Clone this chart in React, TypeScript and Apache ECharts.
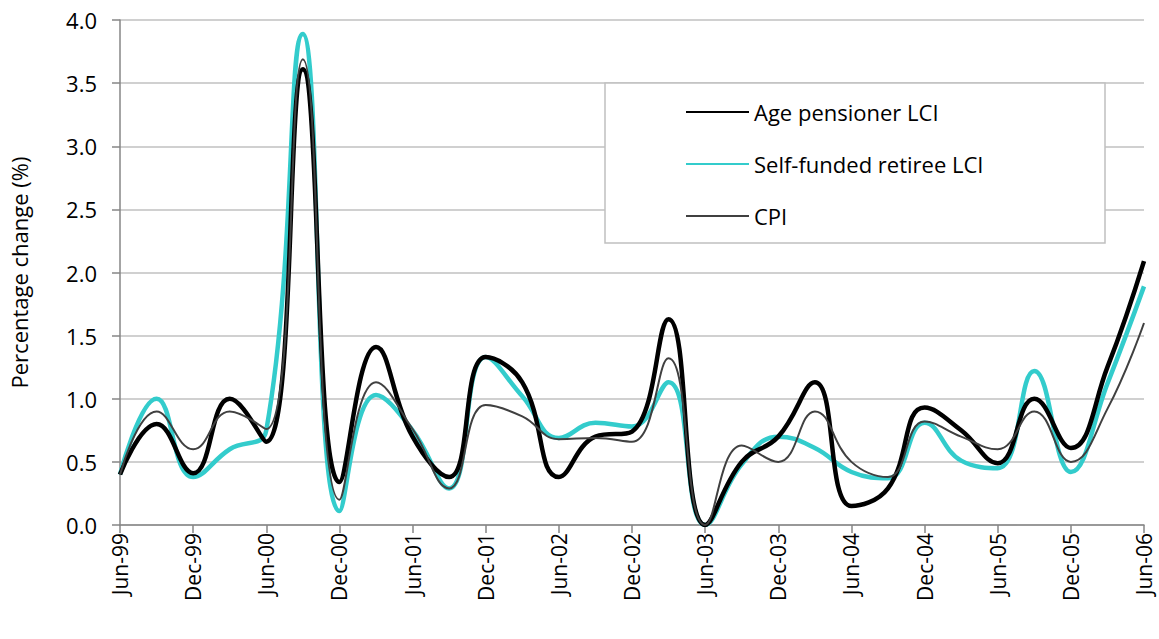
import React, { useEffect, useRef } from "react";
import * as echarts from "echarts";

const quarters = [
  "Jun-99", "Sep-99", "Dec-99", "Mar-00", "Jun-00", "Sep-00", "Dec-00", "Mar-01",
  "Jun-01", "Sep-01", "Dec-01", "Mar-02", "Jun-02", "Sep-02", "Dec-02", "Mar-03",
  "Jun-03", "Sep-03", "Dec-03", "Mar-04", "Jun-04", "Sep-04", "Dec-04", "Mar-05",
  "Jun-05", "Sep-05", "Dec-05", "Mar-06", "Jun-06",
];

const agePensionerLCI = [
  0.40, 0.80, 0.41, 1.00, 0.66, 3.61, 0.34, 1.41, 0.70, 0.38, 1.33, 1.13, 0.38, 0.70, 0.74,
  1.63, 0.00, 0.50, 0.70, 1.13, 0.15, 0.29, 0.93, 0.75, 0.49, 1.00, 0.61, 1.25, 2.09,
];

const selfFundedRetireeLCI = [
  0.40, 1.00, 0.38, 0.60, 0.75, 3.89, 0.11, 1.03, 0.75, 0.29, 1.33, 1.02, 0.69, 0.81, 0.78,
  1.13, 0.00, 0.48, 0.70, 0.61, 0.42, 0.37, 0.81, 0.51, 0.45, 1.22, 0.42, 1.12, 1.89,
];

const cpi = [
  0.40, 0.90, 0.60, 0.90, 0.76, 3.69, 0.20, 1.13, 0.76, 0.29, 0.95, 0.86, 0.68, 0.69, 0.66,
  1.32, 0.00, 0.63, 0.50, 0.90, 0.50, 0.38, 0.82, 0.70, 0.60, 0.90, 0.50, 0.92, 1.60,
];

const seriesNames = ["Age pensioner LCI", "Self-funded retiree LCI", "CPI"];
const FONT = "'Open Sans', sans-serif";

export default function App() {
  const ref = useRef<HTMLDivElement>(null);

  useEffect(() => {
    if (!ref.current) return;
    const chart = echarts.init(ref.current, null, { renderer: "svg" });
    chart.setOption({
      animation: false,
      backgroundColor: "#ffffff",
      textStyle: { fontFamily: FONT },
      grid: { left: 120, right: 15, top: 20, bottom: 114, containLabel: false },
      graphic: [
        {
          type: "rect",
          z: 1,
          shape: { x: 605, y: 83, width: 500, height: 160 },
          style: { fill: "#ffffff", stroke: "#c0c0c0", lineWidth: 1.5 },
        },
      ],
      legend: {
        orient: "vertical",
        left: 685,
        top: 101,
        z: 5,
        itemWidth: 63,
        itemHeight: 2,
        itemGap: 30,
        padding: 0,
        data: seriesNames,
        textStyle: { fontSize: 22, color: "#000000", fontFamily: FONT },
      },
      xAxis: {
        type: "category",
        data: quarters,
        boundaryGap: false,
        axisLine: { lineStyle: { color: "#868686", width: 1.5 } },
        axisTick: { interval: 1, length: 8, lineStyle: { color: "#868686", width: 1.5 } },
        axisLabel: {
          interval: 1,
          rotate: 90,
          fontSize: 21,
          color: "#000000",
          margin: 8,
          fontFamily: FONT,
        },
        splitLine: { show: false },
      },
      yAxis: {
        type: "value",
        min: 0,
        max: 4,
        interval: 0.5,
        name: "Percentage change (%)",
        nameLocation: "middle",
        nameGap: 90,
        nameRotate: 90,
        nameTextStyle: { fontSize: 22, color: "#000000", fontFamily: FONT },
        axisLine: { show: true, lineStyle: { color: "#868686", width: 1.5 } },
        axisTick: { show: true, length: 8, lineStyle: { color: "#868686", width: 1.5 } },
        axisLabel: {
          fontSize: 22,
          color: "#000000",
          margin: 23,
          fontFamily: FONT,
          formatter: (v: number) => v.toFixed(1),
        },
        splitLine: { lineStyle: { color: "#c0c0c0", width: 1.5 } },
      },
      series: [
        {
          name: seriesNames[0],
          type: "line",
          data: agePensionerLCI,
          smooth: 0.45,
          symbol: "none",
          z: 4,
          lineStyle: { color: "#000000", width: 4.5 },
          itemStyle: { color: "#000000" },
        },
        {
          name: seriesNames[1],
          type: "line",
          data: selfFundedRetireeLCI,
          smooth: 0.45,
          symbol: "none",
          z: 3,
          lineStyle: { color: "#33cccc", width: 4.5 },
          itemStyle: { color: "#33cccc" },
        },
        {
          name: seriesNames[2],
          type: "line",
          data: cpi,
          smooth: 0.45,
          symbol: "none",
          z: 5,
          lineStyle: { color: "#404040", width: 2 },
          itemStyle: { color: "#404040" },
        },
      ],
    });
    return () => chart.dispose();
  }, []);

  return (
    <div
      ref={ref}
      style={{ position: "fixed", left: 0, top: 0, width: 1159, height: 639, background: "#fff" }}
    />
  );
}
